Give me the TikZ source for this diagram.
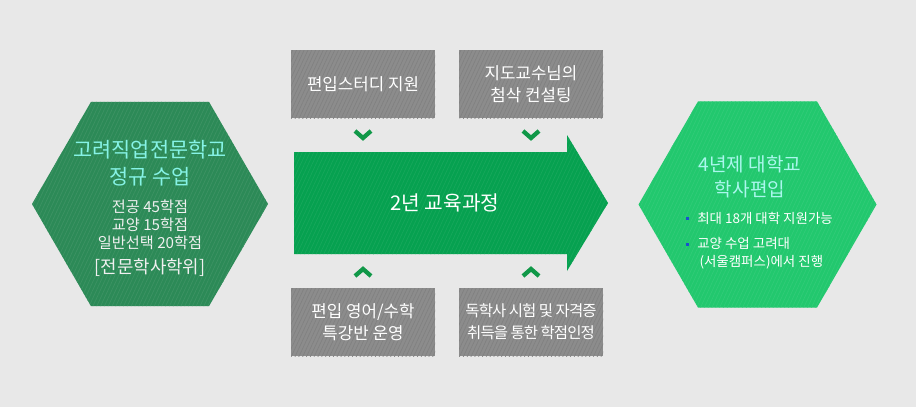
\documentclass[tikz,border=0pt]{standalone}
\usepackage{fontspec}
\setmainfont{Noto Sans CJK KR}
\usetikzlibrary{shapes.geometric}
\usetikzlibrary{patterns.meta}

\definecolor{bggray}{HTML}{E8E8E8}
\definecolor{darkhex}{HTML}{2C8A57}
\definecolor{lighthex}{HTML}{22C86E}
\definecolor{arrowgreen}{HTML}{06A150}
\definecolor{chevgreen}{HTML}{109848}
\definecolor{boxgray}{HTML}{8C8C8C}
\definecolor{aquatext}{HTML}{86F3E6}
\definecolor{bulletblue}{HTML}{1B4FCF}

\tikzset{
  hexa/.style={regular polygon, regular polygon sides=6, minimum size=177pt, inner sep=0pt, outer sep=0pt},
  stripes/.style={postaction={pattern={Lines[angle=65,distance=2.6pt,line width=0.5pt]}, pattern color=#1}},
  graybox/.style={fill=boxgray, stripes=boxgray!92!black, minimum width=108pt, minimum height=51pt, inner sep=0pt, text=white, align=center, font=\fontsize{12.6}{16.5}\selectfont},
  chev/.style={draw=chevgreen, line width=3.2pt, line join=miter}
}

\begin{document}
\begin{tikzpicture}[x=0.75pt, y=-0.75pt]
    \fill[bggray] (0,0) rectangle (916,407);
    \useasboundingbox (0,0) rectangle (916,407);

    % left and right hexagons
    \node[hexa, fill=darkhex, stripes=darkhex!92!white] (school) at (150,204) {};
    \node[hexa, fill=lighthex, stripes=lighthex!93!white, minimum size=178.5pt] (univ) at (757.5,204.5) {};

    \node[text=aquatext, align=center, font=\fontsize{15.6}{20.2}\selectfont] (schooltitle) at (150,163) {고려직업전문학교\\정규 수업};
    \node[text=white!94!black, align=center, font=\fontsize{11.4}{13.5}\selectfont] (credits) at (150,225) {전공 45학점\\교양 15학점\\일반선택 20학점};
    \node[text=white!94!black, font=\fontsize{13.4}{15}\selectfont] (degree) at (150,268) {[전문학사학위]};

    \node[text=aquatext!70!white, align=center, font=\fontsize{14.3}{18.8}\selectfont] (univtitle) at (750,177) {4년제 대학교\\학사편입};
    \node[text=white, anchor=west, inner sep=0pt, font=\fontsize{10.1}{13.5}\selectfont] (apply) at (697,218) {최대 18개 대학 지원가능};
    \node[text=white, anchor=west, align=left, inner sep=0pt, font=\fontsize{10.1}{13.5}\selectfont] (seoul) at (697,253) {교양 수업 고려대\\\,(서울캠퍼스)에서 진행};
    \foreach \y in {218,244}
        \fill[bulletblue] (685.5,\y-1.5) rectangle (688.5,\y+1.5);

    % big arrow
    \fill[arrowgreen, stripes=arrowgreen!93!white] (294,152) -- (567,152) -- (567,135) -- (608,203) -- (567,271) -- (567,254) -- (294,254) -- cycle;
    \node[text=white, font=\fontsize{15.2}{16}\selectfont] (course) at (445,203) {2년 교육과정};

    % gray boxes
    \node[graybox] (study) at (363,84) {편입스터디 지원};
    \node[graybox] (advisor) at (531,84) {지도교수님의\\첨삭 컨설팅};
    \node[graybox] (lecture) at (363,322) {편입 영어/수학\\특강반 운영};
    \node[graybox, font=\fontsize{11.6}{16.5}\selectfont\addfontfeature{LetterSpace=-6}] (exam) at (531,322) {독학사 시험 및 자격증\\취득을 통한 학점인정};

    % chevrons
    \foreach \x in {363,531}
    {
        \draw[chev] (\x-8,131) -- (\x,138) -- (\x+8,131);
        \draw[chev] (\x-8,276) -- (\x,269) -- (\x+8,276);
    }
\end{tikzpicture}
\end{document}
